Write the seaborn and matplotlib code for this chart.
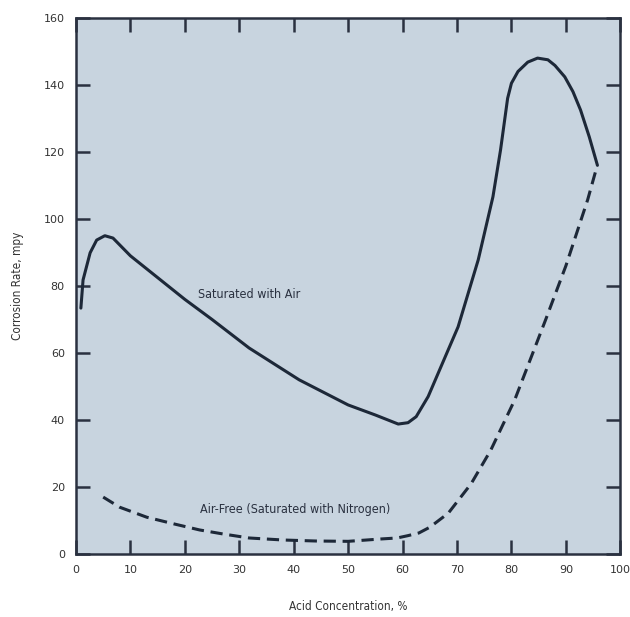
import numpy as np
import pandas as pd
import matplotlib
matplotlib.use('Agg')
import matplotlib.pyplot as plt
import seaborn as sns

# 곡선 데이터
air_x = [0.9, 1.3, 2.6, 3.8, 5.3, 6.8, 10, 15, 20, 25, 31.8, 41, 50, 55, 59.2, 61,
         62.5, 64.7, 68.4, 70.2, 73.9, 76.6, 78, 79.3, 80, 81.2, 83, 84.8, 86.7,
         88, 89.8, 91.3, 92.7, 94.3, 95.8]
air_y = [73.4, 81.8, 89.9, 93.7, 95, 94.3, 89, 82.5, 76, 70, 61.5, 52, 44.5, 41.5,
         38.8, 39.2, 41, 47, 61, 67.8, 87.8, 106.6, 120.6, 136, 140.5, 144, 146.8,
         148, 147.5, 145.8, 142.4, 138, 132.5, 124.5, 116]

n2_x = [5, 8, 13, 18, 22.7, 27, 31.8, 38, 44, 50, 56, 59, 61, 63, 65, 68.4, 72.6,
        76.2, 80.6, 86.3, 90, 94, 95.6]
n2_y = [17, 14, 11, 9, 7.2, 6, 4.8, 4.2, 3.9, 3.8, 4.5, 4.8, 5.5, 6.3, 8, 12.2,
        21, 31, 46, 70, 86, 105.7, 115]

x_ticks = [0, 10, 20, 30, 40, 50, 60, 70, 80, 90, 100]
y_ticks = [0, 20, 40, 60, 80, 100, 120, 140, 160]

df_air = pd.DataFrame({'conc': air_x, 'rate': air_y})
df_n2 = pd.DataFrame({'conc': n2_x, 'rate': n2_y})

sns.set_style('ticks')
plt.rcParams['font.family'] = ['DejaVu Sans']

fig = plt.figure(figsize=(6.3, 6.17), dpi=100)
ax = fig.add_axes([0.1206, 0.102, 0.864, 0.869])
ax.set_facecolor('#c8d4df')

line_color = '#1d2838'
sns.lineplot(data=df_air, x='conc', y='rate', ax=ax, color=line_color, lw=2.2,
             sort=False)
sns.lineplot(data=df_n2, x='conc', y='rate', ax=ax, color=line_color, lw=2.2,
             sort=False, linestyle=(0, (4, 2.2)))

ax.set_xlim(0, 100)
ax.set_ylim(0, 160)
ax.set_xticks(x_ticks)
ax.set_yticks(y_ticks)

# 눈금 안쪽, 네 변 모두
ax.tick_params(direction='in', length=10, width=1.8, color='#2a3140',
               top=True, right=True, labelsize=8, labelcolor='#333333', pad=8)
for s in ax.spines.values():
    s.set_linewidth(1.8)
    s.set_color('#2a3140')

ax.set_xlabel('Acid Concentration, %', fontsize=8.5, color='#333333', labelpad=18,
              fontstretch='condensed')
ax.set_ylabel('Corrosion Rate, mpy', fontsize=8.5, color='#333333', labelpad=14,
              fontstretch='condensed')

ax.text(22.5, 77.5, 'Saturated with Air', fontsize=9, color='#2a3140',
        va='center', ha='left', fontstretch='condensed')
ax.text(40.2, 13.4, 'Air-Free (Saturated with Nitrogen)', fontsize=9,
        color='#2a3140', va='center', ha='center', fontstretch='condensed')

plt.savefig('out.png', dpi=100)
